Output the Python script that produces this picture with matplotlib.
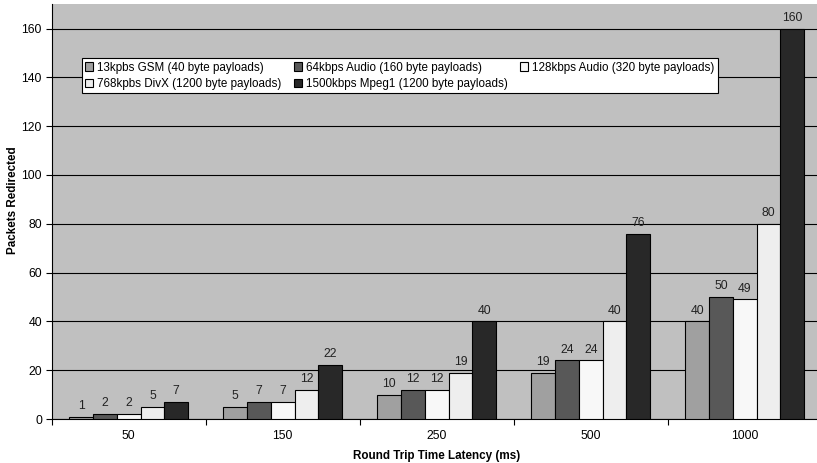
import matplotlib
matplotlib.use("Agg")
import matplotlib.pyplot as plt
import numpy as np

plt.rcParams['font.family'] = ['Liberation Sans', 'DejaVu Sans']

categories = ["50", "150", "250", "500", "1000"]
series_names = [
    "13kpbs GSM (40 byte payloads)",
    "64kbps Audio (160 byte payloads)",
    "128kbps Audio (320 byte payloads)",
    "768kpbs DivX (1200 byte payloads)",
    "1500kbps Mpeg1 (1200 byte payloads)",
]
gsm_13k = [1, 5, 10, 19, 40]
audio_64k = [2, 7, 12, 24, 50]
audio_128k = [2, 7, 12, 24, 49]
divx_768k = [5, 12, 19, 40, 80]
mpeg1_1500k = [7, 22, 40, 76, 160]
series_values = [gsm_13k, audio_64k, audio_128k, divx_768k, mpeg1_1500k]
colors = ["#A0A0A0", "#585858", "#F8F8F8", "#EEEEEE", "#282828"]
y_ticks = [0, 20, 40, 60, 80, 100, 120, 140, 160]

fig = plt.figure(figsize=(8.17, 4.63), dpi=100)
ax = fig.add_axes([0.0633, 0.095, 0.9425, 0.896])
ax.set_facecolor("#C0C0C0")

n = len(categories)
x = np.arange(n)
bw = 0.154
offsets = (np.arange(5) - 2) * bw
handles = []
for vals, off, c, name in zip(series_values, offsets, colors, series_names):
    bars = ax.bar(x + off, vals, width=bw, color=c, edgecolor="black",
                  linewidth=0.8, label=name, zorder=3)
    handles.append(bars)
    for xi, v in zip(x + off, vals):
        ax.annotate(str(v), (xi, v), xytext=(0, 3.5), textcoords="offset points",
                    ha="center", va="bottom", fontsize=8.8, color="#222222",
                    zorder=4)

ax.set_xlim(-0.5, n - 0.5)
ax.set_ylim(0, 170)
ax.set_yticks(y_ticks)
ax.set_yticklabels([str(t) for t in y_ticks], fontsize=8.8)
ax.yaxis.grid(True, color="black", linewidth=0.8, zorder=0)
ax.set_axisbelow(True)

# category labels centered, tick marks on boundaries
ax.set_xticks(x)
ax.set_xticklabels(categories, fontsize=8.8)
ax.tick_params(axis="x", which="major", length=0, pad=8)
ax.set_xticks(np.arange(n + 1) - 0.5, minor=True)
ax.tick_params(axis="x", which="minor", length=4, direction="out", width=0.8)
ax.tick_params(axis="y", length=4, direction="out", width=0.8, pad=3)

for s in ["top", "right"]:
    ax.spines[s].set_visible(False)
ax.spines["left"].set_linewidth(0.8)
ax.spines["bottom"].set_linewidth(0.8)

ax.set_xlabel("Round Trip Time Latency (ms)", fontsize=8.4, fontweight="bold", labelpad=6)
ax.set_ylabel("Packets Redirected", fontsize=8.4, fontweight="bold")
ax.yaxis.set_label_coords(-0.043, 0.528)

# row-major legend order across three columns
order = [0, 3, 1, 4, 2]
leg = ax.legend([handles[i] for i in order], [series_names[i] for i in order],
                ncol=3, loc="upper left",
                bbox_to_anchor=(0.039, 0.870), fontsize=8.4, frameon=True,
                fancybox=False, edgecolor="black", framealpha=1,
                handlelength=0.7, handleheight=0.7, handletextpad=0.3,
                columnspacing=1.1, borderpad=0.3, labelspacing=0.35,
                borderaxespad=0)
leg.get_frame().set_linewidth(0.8)

fig.savefig("out.png", dpi=100)
